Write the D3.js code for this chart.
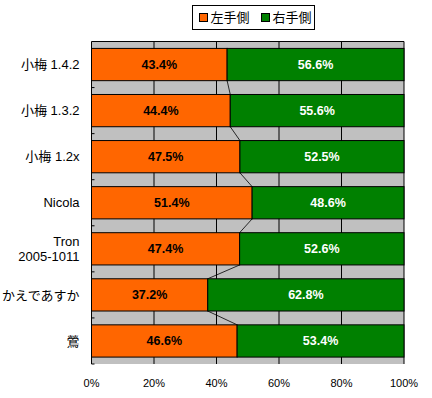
<!DOCTYPE html>
<html>
<head>
<meta charset="utf-8">
<script src="https://cdn.jsdelivr.net/npm/d3@7"></script>
<style>
  body { margin: 0; background: #fff; }
  svg { display: block; font-family: "Liberation Sans", "Noto Sans CJK JP", sans-serif; }
</style>
</head>
<body>
<div id="chart"></div>
<script>
const categories = ['小梅 1.4.2', '小梅 1.3.2', '小梅 1.2x', 'Nicola', 'Tron\n2005-1011', 'かえであすか', '鶯'];
const leftValues = [43.4, 44.4, 47.5, 51.4, 47.4, 37.2, 46.6];
const rightValues = [56.6, 55.6, 52.5, 48.6, 52.6, 62.8, 53.4];
const seriesNames = ['左手側', '右手側'];
const xTicks = [0, 20, 40, 60, 80, 100];

const W = 432, H = 398;
const margin = { top: 41.5, right: 28, bottom: 34, left: 91.5 };
const width = W - margin.left - margin.right;
const height = H - margin.top - margin.bottom;

const svg = d3.select('#chart')
  .append('svg')
  .attr('width', W)
  .attr('height', H);

const g = svg.append('g')
  .attr('transform', `translate(${margin.left},${margin.top})`);

const x = d3.scaleLinear().domain([0, 100]).range([0, width]);
const y = d3.scaleBand().domain(categories).range([0, height]).paddingInner(0.3).paddingOuter(0.15);

// plot area
g.append('rect')
  .attr('width', width)
  .attr('height', height)
  .attr('fill', '#c0c0c0');

// gridlines
g.selectAll('.grid')
  .data(xTicks.slice(1))
  .enter()
  .append('line')
  .attr('x1', d => x(d)).attr('x2', d => x(d))
  .attr('y1', 0).attr('y2', height)
  .attr('stroke', '#000').attr('stroke-width', 1);

g.append('line')
  .attr('x1', 0).attr('x2', width).attr('y1', 0).attr('y2', 0)
  .attr('stroke', '#000');

// stacked data
const rows = categories.map((c, i) => ({ cat: c, left: leftValues[i], right: rightValues[i] }));

// series lines
for (let i = 0; i < rows.length - 1; i++) {
  g.append('line')
    .attr('x1', x(rows[i].left)).attr('y1', y(rows[i].cat) + y.bandwidth())
    .attr('x2', x(rows[i + 1].left)).attr('y2', y(rows[i + 1].cat))
    .attr('stroke', '#000').attr('stroke-width', 0.8);
}

// bars
g.selectAll('.bar-left')
  .data(rows)
  .enter()
  .append('rect')
  .attr('x', 0)
  .attr('y', d => y(d.cat))
  .attr('width', d => x(d.left))
  .attr('height', y.bandwidth())
  .attr('fill', '#ff6600')
  .attr('stroke', '#000');

g.selectAll('.bar-right')
  .data(rows)
  .enter()
  .append('rect')
  .attr('x', d => x(d.left))
  .attr('y', d => y(d.cat))
  .attr('width', d => x(d.left + d.right) - x(d.left))
  .attr('height', y.bandwidth())
  .attr('fill', '#008000')
  .attr('stroke', '#000');

// value labels
g.selectAll('.lab-left')
  .data(rows)
  .enter()
  .append('text')
  .attr('x', d => x(d.left / 2))
  .attr('y', d => y(d.cat) + y.bandwidth() / 2)
  .attr('dy', '0.36em')
  .attr('text-anchor', 'middle')
  .attr('font-size', 12.5)
  .attr('font-weight', 'bold')
  .attr('fill', '#000')
  .text(d => d.left.toFixed(1) + '%');

g.selectAll('.lab-right')
  .data(rows)
  .enter()
  .append('text')
  .attr('x', d => x(d.left + d.right / 2))
  .attr('y', d => y(d.cat) + y.bandwidth() / 2)
  .attr('dy', '0.36em')
  .attr('text-anchor', 'middle')
  .attr('font-size', 12.5)
  .attr('font-weight', 'bold')
  .attr('fill', '#fff')
  .text(d => d.right.toFixed(1) + '%');

// left axis with ticks at band boundaries
g.append('line')
  .attr('x1', 0).attr('x2', 0).attr('y1', 0).attr('y2', height)
  .attr('stroke', '#000');
g.selectAll('.ytick')
  .data(d3.range(1, categories.length + 1))
  .enter()
  .append('line')
  .attr('x1', 0).attr('x2', 3)
  .attr('y1', d => d * height / categories.length)
  .attr('y2', d => d * height / categories.length)
  .attr('stroke', '#000');

// category labels
g.selectAll('.cat')
  .data(rows)
  .enter()
  .append('text')
  .attr('text-anchor', 'end')
  .attr('font-size', 13)
  .attr('fill', '#000')
  .each(function(d) {
    const lines = d.cat.split('\n');
    const t = d3.select(this);
    const cy = y(d.cat) + y.bandwidth() / 2;
    lines.forEach((ln, k) => {
      t.append('tspan')
        .attr('x', -12)
        .attr('y', cy + (k - (lines.length - 1) / 2) * 15.5)
        .attr('dy', '0.36em')
        .text(ln);
    });
  });

// x axis labels
g.selectAll('.xlab')
  .data(xTicks)
  .enter()
  .append('text')
  .attr('x', d => x(d))
  .attr('y', height + 23)
  .attr('text-anchor', 'middle')
  .attr('font-size', 11)
  .attr('fill', '#000')
  .text(d => d + '%');

// legend
const legend = svg.append('g').attr('transform', 'translate(192.5,5.5)');
legend.append('rect')
  .attr('width', 122).attr('height', 24)
  .attr('fill', '#fff').attr('stroke', '#000');
const legendColors = ['#ff6600', '#008000'];
seriesNames.forEach((name, i) => {
  const lx = 7 + i * 62;
  legend.append('rect')
    .attr('x', lx).attr('y', 8)
    .attr('width', 8).attr('height', 8)
    .attr('fill', legendColors[i]).attr('stroke', '#000');
  legend.append('text')
    .attr('x', lx + 11).attr('y', 12)
    .attr('dy', '0.36em')
    .attr('font-size', 13)
    .attr('fill', '#000')
    .text(name);
});
</script>
</body>
</html>
